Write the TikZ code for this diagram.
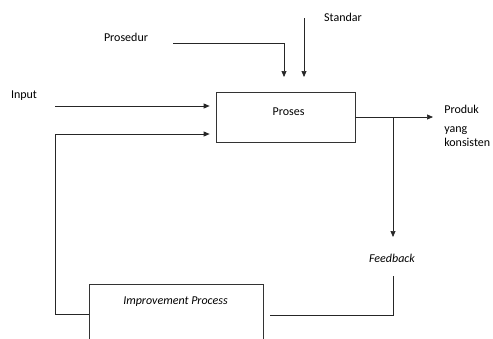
\documentclass[tikz,border=0pt]{standalone}
\usepackage{fontspec}
\setmainfont{Carlito}
\usetikzlibrary{arrows.meta}
\begin{document}
\begin{tikzpicture}[x=1pt,y=-1pt,
  line width=0.7pt,
  >={Triangle[length=6pt,width=5pt]},
  font=\fontsize{12}{14}\selectfont,
  ln/.style={draw=black!85},
  box/.style={draw=black!80, inner sep=0pt},
  lbl/.style={inner sep=0pt, text=black},
  gap/.style={shorten >=6pt}]
\clip (0,0) rectangle (493,338);
% boxes
\node[box, minimum width=139pt, minimum height=50pt] (proses) at (285.5,117) {};
\node[lbl] (prosesT) at (288.5,112) {Proses};
\node[box, minimum width=174pt, minimum height=80pt] (imp) at (176,324.7) {};
\node[lbl] (impT) at (175.5,302) {\itshape Improvement Process};
% labels
\node[lbl] (input) at (24,96) {Input};
\node[lbl] (prosedur) at (126,37) {Prosedur};
\node[lbl] (standar) at (343,17) {Standar};
\node[lbl] (feedback) at (392,258) {\itshape Feedback};
\node[lbl, anchor=north west, align=left] (produk) at (444,105) {Produk\\[5pt]yang\\konsisten};
% coordinates
\coordinate (inS) at (55,106);
\coordinate (loopX) at (55,134);
\coordinate (prS) at (173,43);
\coordinate (prE) at (284,77);
\coordinate (stS) at (304,18);
\coordinate (stE) at (304,77);
\coordinate (outE) at (433,117);
\coordinate (br) at (393,117);
\coordinate (brE) at (393,237);
\coordinate (fbS) at (393,276);
\coordinate (fbE) at (270,315);
% connectors
\draw[ln, ->, gap] (inS) -- (inS -| proses.west);
\draw[ln, ->, gap] (imp.west |- 0,314) -| (loopX) -- (loopX -| proses.west);
\draw[ln, ->] (prS) -| (prE);
\draw[ln, ->] (stS) -- (stE);
\draw[ln, ->] (proses.east) -- (outE);
\draw[ln, ->] (br) -- (brE);
\draw[ln] (fbS) |- (fbE);
\end{tikzpicture}
\end{document}
